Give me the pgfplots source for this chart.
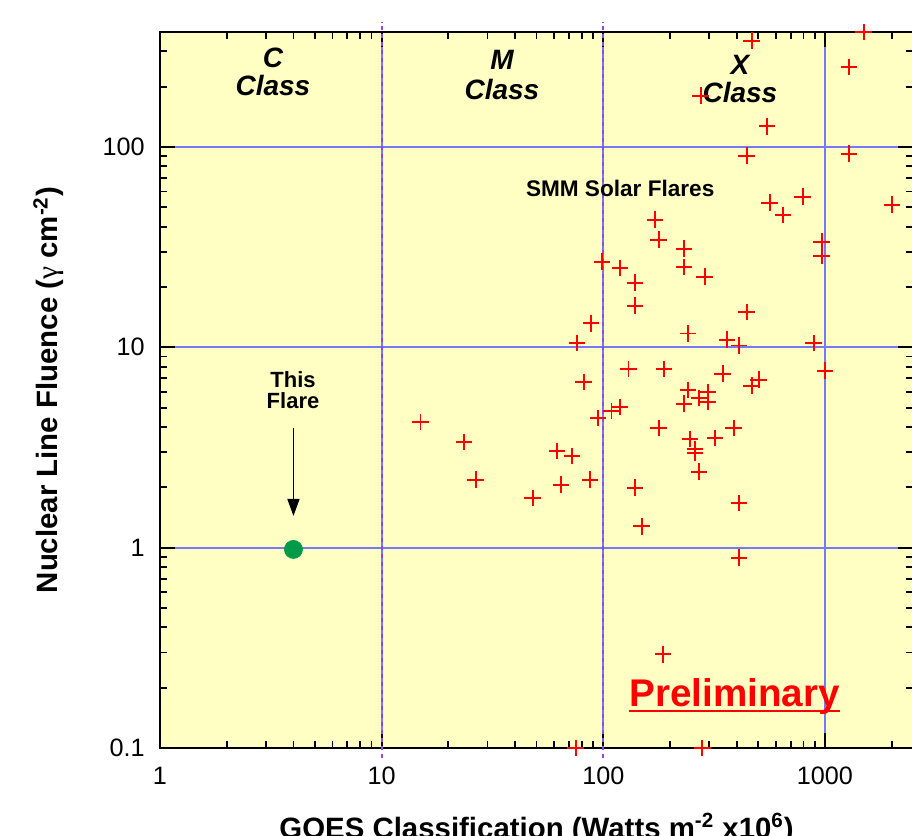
\documentclass[border=0pt]{standalone}
\usepackage{pgfplots}
\pgfplotsset{compat=1.18}
\usepackage{fontspec}
\setmainfont{Liberation Sans}
\newfontfamily\symfont{Liberation Serif}
\usetikzlibrary{arrows.meta}
\definecolor{bgyellow}{RGB}{255,255,196}
\definecolor{gridblue}{RGB}{120,120,255}
\definecolor{dashpurple}{RGB}{150,70,230}
\definecolor{flaregreen}{RGB}{0,154,73}
\begin{document}
\begin{tikzpicture}
\useasboundingbox (-80pt,-44pt) rectangle (376pt,374pt);
\begin{axis}[
  at={(0pt,0pt)}, anchor=south west,
  scale only axis, width=376.6pt, height=358pt,
  xmode=log, ymode=log,
  xmin=1, xmax=2500, ymin=0.1, ymax=375,
  clip=false,
  axis background/.style={fill=bgyellow},
  axis line style={black, line width=1pt},
  xtick={1,10,100,1000}, xticklabels={1,10,100,1000},
  ytick={0.1,1,10,100}, yticklabels={0.1,1,10,100},
  minor xtick={2,3,4,5,6,7,8,9,20,30,40,50,60,70,80,90,200,300,400,500,600,700,800,900,2000},
  minor ytick={0.2,0.3,0.4,0.5,0.6,0.7,0.8,0.9,2,3,4,5,6,7,8,9,20,30,40,50,60,70,80,90,200,300},
  tick align=inside,
  xtick pos=both, ytick pos=both,
  major tick length=7.5pt, minor tick length=3.5pt,
  tick style={black, line width=0.9pt},
  grid=major,
  major grid style={gridblue, line width=1pt},
  every tick label/.append style={font=\fontsize{12.6}{14}\selectfont},
  yticklabel style={inner sep=0pt, xshift=-7.5pt},
  xticklabel style={inner sep=0pt, yshift=-9.5pt},
  xlabel style={at={(axis description cs:0.5,0)}, anchor=base, yshift=-45pt, font=\bfseries\fontsize{14.7}{17}\selectfont},
  ylabel style={at={(axis description cs:0,0.5)}, anchor=base, yshift=51pt, font=\bfseries\fontsize{14.7}{17}\selectfont},
  xlabel={GOES Classification (Watts m\textsuperscript{-2} x10\textsuperscript{6})},
  ylabel={Nuclear Line Fluence ({\symfont\mdseries γ} cm\textsuperscript{-2})},
]
% class boundaries (dashed)
\addplot[dashpurple, line width=1pt, dash pattern=on 2pt off 2pt, forget plot] coordinates {(10,0.0891) (10,421)};
\addplot[dashpurple, line width=1pt, dash pattern=on 2pt off 2pt, forget plot] coordinates {(100,0.0891) (100,421)};
% SMM solar flares
\addplot[only marks, mark=+, mark size=4.2pt, red, mark options={line width=0.8pt}] coordinates {
(468,339) (1497,375) (1282,251) (275,180) (547,127) (444,90.3) (1282,92.4)
(564,52.6) (795,56.4) (646,45.8) (2004,51.4) (171,43.3) (178,34.4) (231,31.0)
(231,25.2) (287,22.5) (968,33.6) (968,28.6) (98.6,26.7) (119,24.9) (139,21.0)
(139,16.1) (87.9,13.2) (76.0,10.5) (241,11.7) (444,15.0) (361,10.9) (409,10.2)
(891,10.5) (130,7.80) (188,7.80) (346,7.37) (1000,7.63) (503,6.88) (468,6.42)
(81.7,6.72) (241,6.13) (296,5.99) (270,5.59) (296,5.34) (231,5.22) (94.6,4.44)
(109,4.81) (119,5.04) (15.0,4.24) (23.5,3.37) (26.6,2.18) (48.1,1.77) (61.8,3.04)
(72.2,2.87) (64.4,2.06) (87.0,2.18) (178,3.96) (246,3.49) (259,3.11) (259,2.97)
(319,3.53) (388,3.96) (270,2.39) (139,1.99) (149,1.28) (409,1.67) (409,0.89)
(186,0.294) (75.2,0.1) (279,0.1)
};
% this flare
\addplot[only marks, mark=*, mark size=4.5pt, mark options={fill=flaregreen, draw=flaregreen}] coordinates {(4,0.98)};
\draw[black, line width=0.75pt, -{Triangle[width=6pt,length=8.5pt]}] (axis cs:4,3.96) -- (axis cs:4,1.44);
% annotations
\node[anchor=base, font=\bfseries\itshape\fontsize{14}{16}\selectfont] at (axis description cs:0.150,0.951) {C};
\node[anchor=base, font=\bfseries\itshape\fontsize{14}{16}\selectfont] at (axis description cs:0.150,0.911) {Class};
\node[anchor=base, font=\bfseries\itshape\fontsize{14}{16}\selectfont] at (axis description cs:0.454,0.947) {M};
\node[anchor=base, font=\bfseries\itshape\fontsize{14}{16}\selectfont] at (axis description cs:0.454,0.906) {Class};
\node[anchor=base, font=\bfseries\itshape\fontsize{14}{16}\selectfont] at (axis description cs:0.770,0.941) {X};
\node[anchor=base, font=\bfseries\itshape\fontsize{14}{16}\selectfont] at (axis description cs:0.770,0.901) {Class};
\node[anchor=base, font=\bfseries\fontsize{11.3}{13}\selectfont] at (axis description cs:0.611,0.770) {SMM Solar Flares};
\node[anchor=base, font=\bfseries\fontsize{11}{13}\selectfont] at (axis description cs:0.1766,0.504) {This};
\node[anchor=base, font=\bfseries\fontsize{11}{13}\selectfont] at (axis description cs:0.1766,0.4735) {Flare};
\node[anchor=base, inner sep=0pt, text=red, font=\bfseries\fontsize{19.3}{22}\selectfont] (prelim) at (axis description cs:0.763,0.0573) {Preliminary};
\draw[red, line width=1pt] ([yshift=-2pt]prelim.base west) -- ([yshift=-2pt]prelim.base east);
\end{axis}
\end{tikzpicture}
\end{document}
